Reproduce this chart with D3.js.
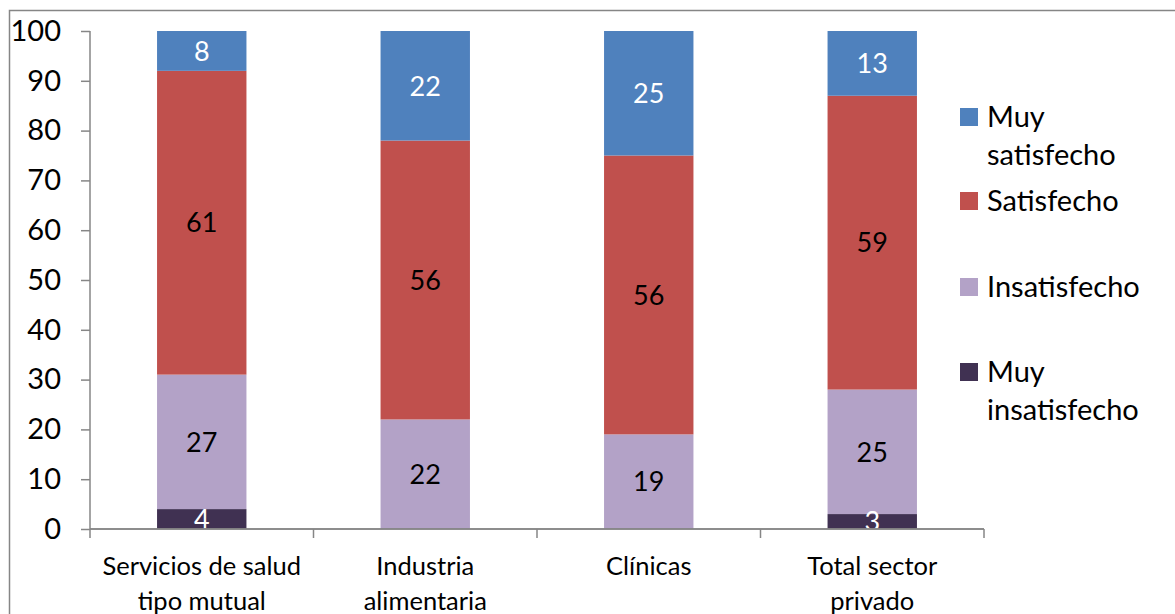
<!DOCTYPE html>
<html><head><meta charset="utf-8">
<script src="https://cdn.jsdelivr.net/npm/d3@7"></script>
<style>body{margin:0;background:#fff}svg{display:block}text{font-family:Lato,"Noto Sans",sans-serif}</style>
</head><body>
<svg id="c" width="1175" height="614"></svg>
<script>
const categories = [["Servicios de salud","tipo mutual"],["Industria","alimentaria"],["Clínicas"],["Total sector","privado"]];
const seriesNames = ["Muy insatisfecho","Insatisfecho","Satisfecho","Muy satisfecho"];
const legendLines = [["Muy","insatisfecho"],["Insatisfecho"],["Satisfecho"],["Muy","satisfecho"]];
const muyInsatisfecho = [4, 0, 0, 3];
const insatisfecho = [27, 22, 19, 25];
const satisfecho = [61, 56, 56, 59];
const muySatisfecho = [8, 22, 25, 13];
const yTicks = [0,10,20,30,40,50,60,70,80,90,100];
const colors = ["#403152","#B3A2C7","#C0504D","#4F81BD"];
const labelColors = ["#fff","#000","#000","#fff"];

const svg = d3.select("#c");
svg.append("rect").attr("x",9.5).attr("y",10.5).attr("width",1175).attr("height",620)
  .attr("fill","none").attr("stroke","#868686").attr("stroke-width",1.5);

const x = d3.scaleBand().domain(d3.range(categories.length)).range([90,984]).padding(0);
const y = d3.scaleLinear().domain([0,100]).range([529,31]);
const barW = x.bandwidth()*0.4;

const series = [muyInsatisfecho, insatisfecho, satisfecho, muySatisfecho];
const rows = categories.map((c,i)=>{const o={i}; seriesNames.forEach((s,k)=>o[s]=series[k][i]); return o;});
const stack = d3.stack().keys(seriesNames)(rows);

const g = svg.append("g");
stack.forEach((layer,k)=>{
  layer.forEach((d,i)=>{
    if (d[1]-d[0] <= 0) return;
    g.append("rect").attr("x", x(i)+x.bandwidth()/2-barW/2).attr("width", barW)
      .attr("y", y(d[1])).attr("height", y(d[0])-y(d[1])).attr("fill", colors[k]);
  });
});

// axes
const ya = svg.append("g").attr("transform","translate(90,0)")
  .call(d3.axisLeft(y).tickValues(yTicks).tickSize(9).tickPadding(20));
ya.select(".domain").attr("stroke","#868686").attr("stroke-width",1.5).attr("d","M0,"+y(100)+"V"+y(0));
ya.selectAll(".tick line").attr("stroke","#868686").attr("stroke-width",1.5);
ya.selectAll(".tick text").attr("font-size",29).attr("fill","#000").attr("font-family","Lato");

const xa = svg.append("g").attr("transform","translate(0,529)");
xa.append("line").attr("x1",90).attr("x2",984).attr("stroke","#868686").attr("stroke-width",1.5);
d3.range(categories.length+1).forEach(i=>{
  const px = i<categories.length ? x(i) : x(categories.length-1)+x.bandwidth();
  xa.append("line").attr("x1",px).attr("x2",px).attr("y1",0).attr("y2",9).attr("stroke","#868686").attr("stroke-width",1.5);
});
categories.forEach((c,i)=>{
  const t = svg.append("text").attr("x", x(i)+x.bandwidth()/2).attr("y",575)
    .attr("text-anchor","middle").attr("font-size",25.5).attr("fill","#000");
  c.forEach((ln,j)=>t.append("tspan").attr("x", x(i)+x.bandwidth()/2).attr("y",575+j*35).text(ln));
});

// data labels
stack.forEach((layer,k)=>{
  layer.forEach((d,i)=>{
    if (d[1]-d[0] <= 0) return;
    g.append("text").attr("x", x(i)+x.bandwidth()/2).attr("y", y((d[0]+d[1])/2))
      .attr("dy","0.36em").attr("text-anchor","middle").attr("font-size",27)
      .attr("fill", labelColors[k]).text(d[1]-d[0]);
  });
});
svg.append("line").attr("x1",90).attr("x2",984).attr("y1",529).attr("y2",529).attr("stroke","#868686").attr("stroke-width",1.5);

// legend
const legY = [{sq:372, lines:[382,420]},{sq:287, lines:[297]},{sq:201, lines:[211]},{sq:117, lines:[127,165]}];
const lg = svg.append("g");
legendLines.forEach((ls,k)=>{
  lg.append("rect").attr("x",960).attr("y",legY[k].sq-9).attr("width",18).attr("height",18).attr("fill",colors[k]);
  ls.forEach((ln,j)=>lg.append("text").attr("x",987).attr("y",legY[k].lines[j]).attr("font-size",29).attr("fill","#000").text(ln));
});
</script>
</body></html>
